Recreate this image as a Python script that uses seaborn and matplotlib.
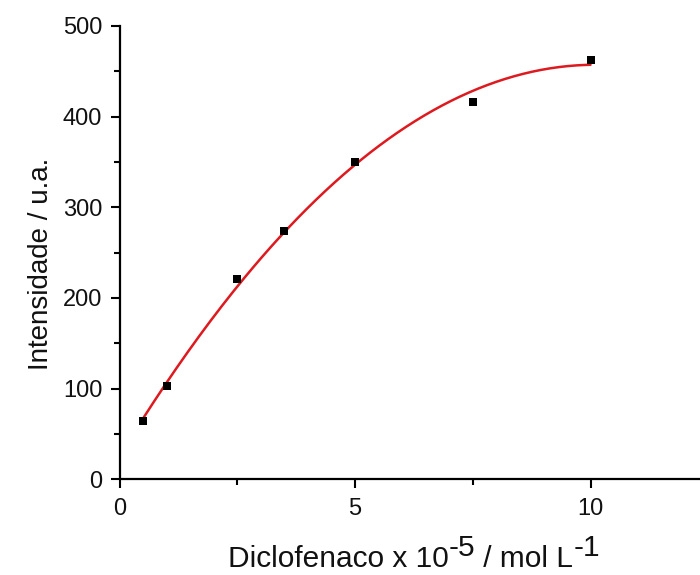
import numpy as np
import pandas as pd
import matplotlib
matplotlib.use("Agg")
import matplotlib.pyplot as plt
import seaborn as sns

# Data
conc = [0.5, 1.0, 2.5, 3.5, 5.0, 7.5, 10.0]
intensity = [64.3, 103.2, 220.9, 274.2, 350.0, 416.5, 462.5]

x_ticks = [0, 5, 10]
y_ticks = [0, 100, 200, 300, 400, 500]

sns.set_theme(style="ticks")
plt.rcParams['font.family'] = ['Liberation Sans', 'DejaVu Sans']

df = pd.DataFrame({"conc": conc, "intensity": intensity})

# quadratic fit (red line in the reference)
coef = np.polyfit(conc, intensity, 2)
xf = np.linspace(min(conc), max(conc), 200)
fit_df = pd.DataFrame({"conc": xf, "intensity": np.polyval(coef, xf)})

fig = plt.figure(figsize=(7, 5.75), dpi=100)
ax = fig.add_axes([119.5 / 700, 95.7 / 575, 1 - 119.5 / 700, (479.3 - 26) / 575])

sns.lineplot(data=fit_df, x="conc", y="intensity", ax=ax, color="#dd1a1f",
             linewidth=1.8, zorder=2)
sns.scatterplot(data=df, x="conc", y="intensity", ax=ax, marker="s", s=40,
                color="black", edgecolor="black", linewidth=0, zorder=3)

ax.set_xticks(x_ticks)
ax.set_yticks(y_ticks)
ax.set_xticks([2.5, 7.5, 12.5], minor=True)
ax.set_yticks([50, 150, 250, 350, 450], minor=True)
ax.set_xlim(0, (700 - 119.5) / 47.1)
ax.set_ylim(0, 500)
ax.tick_params(axis='both', which='major', direction='out', length=6.5, width=1.5,
               labelsize=17, color='black', labelcolor='#111111')
ax.tick_params(axis='both', which='minor', direction='out', length=4, width=1.5,
               color='black')
ax.tick_params(axis='x', which='major', pad=7)
ax.tick_params(axis='y', which='major', pad=6)
for side in ['top', 'right']:
    ax.spines[side].set_visible(False)
for side in ['left', 'bottom']:
    ax.spines[side].set_linewidth(1.6)
    ax.spines[side].set_color('black')
ax.set_xlabel("")
ax.set_ylabel("")

# y label
fig.text(41 / 700, 1 - 264 / 575, "Intensidade / u.a.", rotation=90,
         ha='center', va='center', fontsize=20, color='#111111')

# x label with full-size raised superscripts
pieces = [("Diclofenaco x 10", 0), ("-5", 11), (" / mol L", 0), ("-1", 11)]
renderer = fig.canvas.get_renderer()
xpos = 228
base = 575 - 567
for txt, rise in pieces:
    t = fig.text(xpos / 700, (base + rise) / 575, txt, ha='left', va='baseline',
                 fontsize=21.5, color='#111111')
    bb = t.get_window_extent(renderer=renderer)
    xpos = bb.x1

fig.savefig("out.png", dpi=100)
